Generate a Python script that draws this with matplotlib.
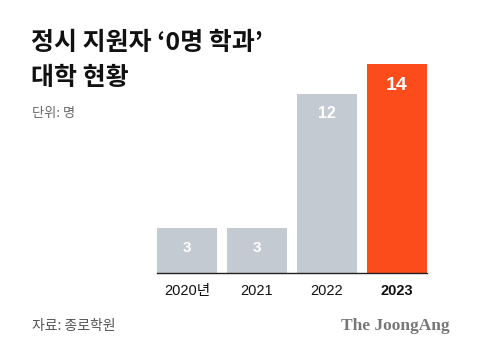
import matplotlib.pyplot as plt

plt.rcParams['font.family'] = ['Noto Sans CJK KR', 'DejaVu Sans']

# 데이터
years = ['2020년', '2021', '2022', '2023']
counts = [3, 3, 12, 14]
colors = ['#c4cad1', '#c4cad1', '#c4cad1', '#fc4c1c']

fig = plt.figure(figsize=(4.8, 3.55), dpi=100)
ax = fig.add_axes([157 / 480, 82 / 355, 270 / 480, 209 / 355])

x = range(len(years))
bars = ax.bar(x, counts, width=0.857, color=colors)

ax.set_xlim(-0.4286, 3.4286)
ax.set_ylim(0, 14)
for s in ['top', 'right', 'left']:
    ax.spines[s].set_visible(False)
ax.spines['bottom'].set_color('#222222')
ax.spines['bottom'].set_linewidth(1.0)
ax.set_yticks([])
ax.set_xticks(list(x))
ax.set_xticklabels(years, fontsize=10.5, color='#111111',
                   family=['Liberation Sans', 'Noto Sans CJK KR'])
ax.tick_params(axis='x', length=0, pad=8)
ax.get_xticklabels()[-1].set_fontweight('bold')

# 막대 안 숫자
sizes = [11, 11, 11.5, 14]
for b, v, fs in zip(bars, counts, sizes):
    ax.annotate(str(v), (b.get_x() + b.get_width() / 2, v), xytext=(0, -9),
                textcoords='offset points', ha='center', va='top',
                color='white', fontsize=fs, fontweight='bold',
                family='Liberation Sans')

fig.text(31 / 480, 1 - 43 / 355, '정시 지원자 ‘0명 학과’', fontsize=18,
         fontweight='heavy', va='center', ha='left', color='#111111')
fig.text(31 / 480, 1 - 78 / 355, '대학 현황', fontsize=18,
         fontweight='heavy', va='center', ha='left', color='#111111')
fig.text(32 / 480, 1 - 113 / 355, '단위: 명', fontsize=9.5,
         va='center', ha='left', color='#666666')
fig.text(32 / 480, 1 - 326 / 355, '자료: 종로학원', fontsize=10,
         va='center', ha='left', color='#555555')
fig.text(450 / 480, 1 - 326 / 355, 'The JoongAng', fontsize=12.5,
         family='Liberation Serif', fontweight='bold',
         va='center', ha='right', color='#777777')

fig.savefig('out.png', dpi=100)
